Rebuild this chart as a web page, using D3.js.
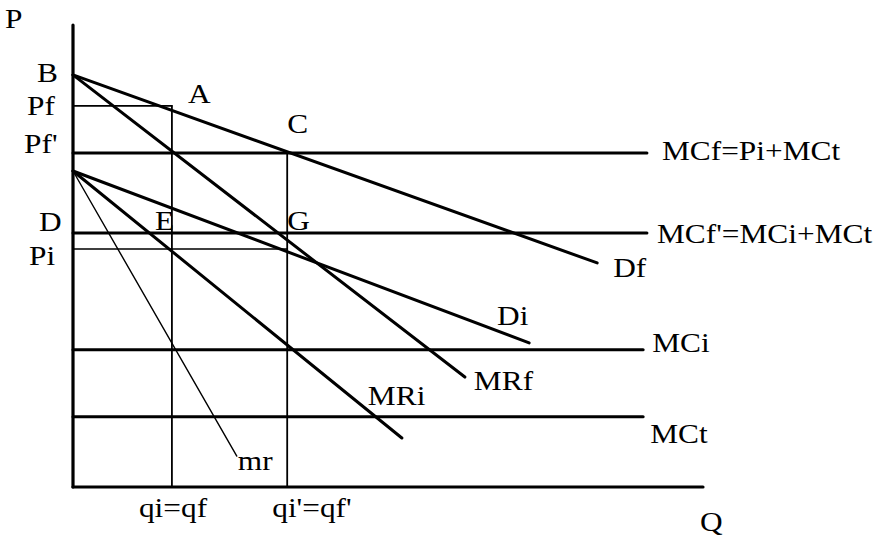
<!DOCTYPE html>
<html>
<head>
<meta charset="utf-8">
<script src="https://cdn.jsdelivr.net/npm/d3@7"></script>
<style>
  html, body { margin: 0; padding: 0; background: #fff; }
  svg text { font-family: "Liberation Serif", "Times New Roman", serif; font-size: 28px; fill: #000; }
</style>
</head>
<body>
<svg width="885" height="538"></svg>
<script>
// values (Q and P both on a 0..100 scale)
const curveNames = ["Df", "MRf", "Di", "MRi", "mr"];
const curveStartP = [89.2, 89.2, 68.4, 68.4, 68.4];   // P where the curve meets the P axis
const curveEndQ = [83.2, 62.2, 72.4, 52.2, 26.0];
const curveEndP = [48.5, 23.8, 31.2, 10.6, 6.7];

const levelNames = ["MCf=Pi+MCt", "MCf'=MCi+MCt", "MCi", "MCt"];
const levelP = [72.3, 55.0, 29.7, 15.2];
const levelEndQ = [91.1, 91.1, 90.5, 90.5];

const axisNames = ["B", "Pf", "Pf'", "D", "Pi"];
const axisP = [89.2, 82.5, 72.3, 55.0, 51.5];

const qNames = ["qi=qf", "qi'=qf'"];
const qValues = [15.7, 34.0];

const pointNames = ["A", "C", "E", "G"];
const pointQ = [15.7, 34.0, 15.7, 34.0];
const pointP = [82.5, 72.3, 55.0, 55.0];

// label offsets in pixels from their anchors
const curveOff = [[16, 14], [9, 13], [-32, -18], [-34, -33], [1, 14]];
const levelOff = [[15, 7], [10, 10], [9, 2], [7, 26]];
const axisOff = [[-36, 7], [-46, 9], [-49, 0], [-34, -2], [-44, 16]];
const qOff = [[-33, 30], [-15, 30]];
const pointOff = [[16, -3], [0, -20], [-17, -3], [0, -3]];

const svg = d3.select("svg");
const area = { left: 73, right: 703, top: 25, bottom: 487 };

const sx = d3.scaleLinear().domain([0, 100]).range([area.left, area.right]);
const sy = d3.scaleLinear().domain([0, 100]).range([area.bottom, area.top]);

const g = svg.append("g");

function seg(x1, y1, x2, y2, w) {
   g.append("line")
      .attr("x1", sx(x1)).attr("y1", sy(y1))
      .attr("x2", sx(x2)).attr("y2", sy(y2))
      .attr("stroke", "#000")
      .attr("stroke-width", w)
      .attr("stroke-linecap", "round");
}

function label(t, x, y) {
   g.append("text")
      .attr("transform", `translate(${x},${y}) scale(1.12,1)`)
      .text(t);
}

// thin guide lines
seg(0, axisP[1], qValues[0], axisP[1], 1.6);      // Pf
seg(0, axisP[4], qValues[1], axisP[4], 1.6);      // Pi
seg(qValues[0], axisP[1], qValues[0], 0, 1.8);    // qi
seg(qValues[1], levelP[0], qValues[1], 0, 1.8);   // qi'

// horizontal cost lines
levelNames.forEach((n, i) => {
   seg(0, levelP[i], levelEndQ[i], levelP[i], 3);
   label(n, sx(levelEndQ[i]) + levelOff[i][0], sy(levelP[i]) + levelOff[i][1]);
});

// demand and marginal revenue curves
curveNames.forEach((n, i) => {
   seg(0, curveStartP[i], curveEndQ[i], curveEndP[i], n == "mr" ? 1.4 : 3);
   label(n, sx(curveEndQ[i]) + curveOff[i][0], sy(curveEndP[i]) + curveOff[i][1]);
});

// axes
seg(0, 0, 0, 100, 3.2);
seg(0, 0, 100, 0, 3.2);
label("P", sx(0) - 68, sy(100) + 3);
label("Q", sx(100) - 3, sy(0) + 44);

axisNames.forEach((n, i) => label(n, sx(0) + axisOff[i][0], sy(axisP[i]) + axisOff[i][1]));
qNames.forEach((n, i) => label(n, sx(qValues[i]) + qOff[i][0], sy(0) + qOff[i][1]));
pointNames.forEach((n, i) => label(n, sx(pointQ[i]) + pointOff[i][0], sy(pointP[i]) + pointOff[i][1]));
</script>
</body>
</html>
